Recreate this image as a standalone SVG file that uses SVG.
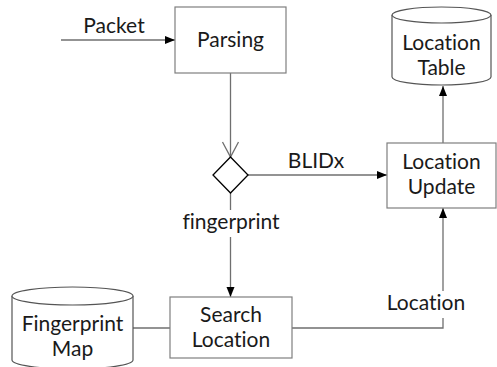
<svg xmlns="http://www.w3.org/2000/svg" width="497" height="367" viewBox="0 0 497 367">
<style>
.box{fill:#fff;stroke:#7f7f7f;stroke-width:1.2}
.cyl{fill:#fff;stroke:#555;stroke-width:1.2}
.ln{fill:none;stroke:#6f6f6f;stroke-width:1.3}
.t{font-family:Lato,"Open Sans",sans-serif;font-size:21px;fill:#1a1a1a;text-anchor:middle;font-variant-ligatures:none;font-feature-settings:"liga" 0}
</style>
<defs>
<marker id="ah" viewBox="0 0 10 10" refX="10" refY="5" markerWidth="10" markerHeight="10" markerUnits="userSpaceOnUse" orient="auto">
<path d="M0,1 L10,5 L0,9 Z" fill="#000"/>
</marker>
</defs>
<g id="connectors">
<line class="ln" x1="61" y1="40" x2="175" y2="40" marker-end="url(#ah)"/>
<line class="ln" x1="230.5" y1="73" x2="230.5" y2="157"/>
<path class="ln" d="M222.5,142 L230.5,157 L238.5,142"/>
<line class="ln" x1="248" y1="175" x2="387" y2="175" marker-end="url(#ah)"/>
<line class="ln" x1="443" y1="143" x2="443" y2="86" marker-end="url(#ah)"/>
<line class="ln" x1="230.5" y1="193" x2="230.5" y2="297" marker-end="url(#ah)"/>
<path class="ln" d="M292,328 L443,328 L443,208" marker-end="url(#ah)"/>
<line class="ln" x1="133" y1="328" x2="170" y2="328"/>
<rect x="180" y="210" width="102" height="27" fill="#fff"/>
<rect x="383" y="291" width="90" height="27" fill="#fff"/>
<text class="t" x="114" y="33">Packet</text>
<text class="t" x="316" y="168">BLIDx</text>
<text class="t" x="231" y="229">fingerprint</text>
<text class="t" x="426" y="310">Location</text>
</g>
<g id="parsing">
<rect class="box" x="175" y="7" width="111" height="66"/>
<text class="t" x="230.5" y="47">Parsing</text>
</g>
<g id="decision">
<path d="M230.5,157 L248,175 L230.5,193 L213,175 Z" fill="#fff" stroke="#000" stroke-width="1.3"/>
</g>
<g id="location-table">
<path class="cyl" d="M392,15 L392,77 A49.5,8 0 0 0 491,77 L491,15"/>
<ellipse class="cyl" cx="441.5" cy="15" rx="49.5" ry="8"/>
<text class="t" x="441.5" y="50">Location</text>
<text class="t" x="441.5" y="75">Table</text>
</g>
<g id="location-update">
<rect class="box" x="387" y="143" width="109" height="65"/>
<text class="t" x="441.5" y="169">Location</text>
<text class="t" x="441.5" y="194">Update</text>
</g>
<g id="search-location">
<rect class="box" x="170" y="297" width="122" height="61"/>
<text class="t" x="231" y="322">Search</text>
<text class="t" x="231" y="347">Location</text>
</g>
<g id="fingerprint-map">
<path class="cyl" d="M12,296 L12,360 A60.5,9 0 0 0 133,360 L133,296"/>
<ellipse class="cyl" cx="72.5" cy="296" rx="60.5" ry="9"/>
<text class="t" x="72.5" y="331">Fingerprint</text>
<text class="t" x="72.5" y="356">Map</text>
</g>
</svg>
